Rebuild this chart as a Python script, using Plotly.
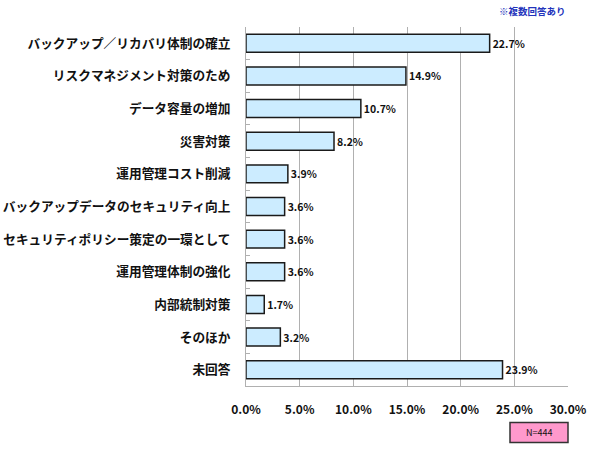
import plotly.graph_objects as go

categories = [
    "バックアップ／リカバリ体制の確立",
    "リスクマネジメント対策のため",
    "データ容量の増加",
    "災害対策",
    "運用管理コスト削減",
    "バックアップデータのセキュリティ向上",
    "セキュリティポリシー策定の一環として",
    "運用管理体制の強化",
    "内部統制対策",
    "そのほか",
    "未回答",
]
values = [22.7, 14.9, 10.7, 8.2, 3.9, 3.6, 3.6, 3.6, 1.7, 3.2, 23.9]
tick_values = [0, 5, 10, 15, 20, 25, 30]
tick_labels = ["0.0%", "5.0%", "10.0%", "15.0%", "20.0%", "25.0%", "30.0%"]
note_text = "※複数回答あり"
n_text = "N=444"

FONT = "Noto Sans CJK JP"

fig = go.Figure(
    go.Bar(
        x=values,
        y=categories,
        orientation="h",
        marker=dict(color="#CCECFF", line=dict(color="#1a1a1a", width=1.5)),
        width=0.55,
        text=[f"{v:.1f}%" for v in values],
        textposition="outside",
        textfont=dict(family=FONT, size=10.5, color="#111111", weight="bold"),
        cliponaxis=False,
        hoverinfo="skip",
    )
)

fig.update_layout(
    width=590,
    height=450,
    margin=dict(l=246, r=22, t=27, b=64),
    paper_bgcolor="white",
    plot_bgcolor="white",
    showlegend=False,
    font=dict(family=FONT, color="#111111"),
    xaxis=dict(
        range=[0, 30],
        tickvals=tick_values,
        ticktext=tick_labels,
        showgrid=True,
        gridcolor="#b0b0b0",
        gridwidth=1,
        showline=True,
        linecolor="#b0b0b0",
        linewidth=1,
        zeroline=False,
        ticks="",
        tickfont=dict(family=FONT, size=12, color="#111111", weight="bold"),
        ticklabelstandoff=13,
        automargin=False,
        fixedrange=True,
    ),
    yaxis=dict(
        autorange="reversed",
        showgrid=False,
        showline=True,
        linecolor="#b0b0b0",
        linewidth=1,
        ticks="inside",
        tickson="boundaries",
        ticklen=4,
        tickcolor="#b0b0b0",
        tickfont=dict(family=FONT, size=12.7, color="#111111", weight="bold"),
        ticklabelstandoff=12,
        automargin=False,
        fixedrange=True,
    ),
    shapes=[
        dict(
            type="rect",
            xref="paper",
            yref="paper",
            x0=(510 - 246) / 322,
            x1=1.0,
            y0=(386.4 - 443) / 359.8,
            y1=(386.4 - 423) / 359.8,
            fillcolor="#FF99CC",
            line=dict(color="#333333", width=1.5),
        )
    ],
    annotations=[
        dict(
            text=note_text,
            xref="paper",
            yref="paper",
            x=1.0,
            y=(386.4 - 11) / 359.8,
            xanchor="right",
            yanchor="middle",
            showarrow=False,
            font=dict(family=FONT, size=9.5, color="#2233BB", weight="bold"),
        ),
        dict(
            text=n_text,
            xref="paper",
            yref="paper",
            x=((510 - 246) / 322 + 1.0) / 2,
            y=(386.4 - 433) / 359.8,
            xanchor="center",
            yanchor="middle",
            showarrow=False,
            font=dict(family=FONT, size=9, color="#111111"),
        ),
    ],
)

fig.write_html(
    "out.html",
    config={"displayModeBar": False, "staticPlot": True},
    post_script="document.body.style.margin='0';document.body.style.overflow='hidden';",
)
